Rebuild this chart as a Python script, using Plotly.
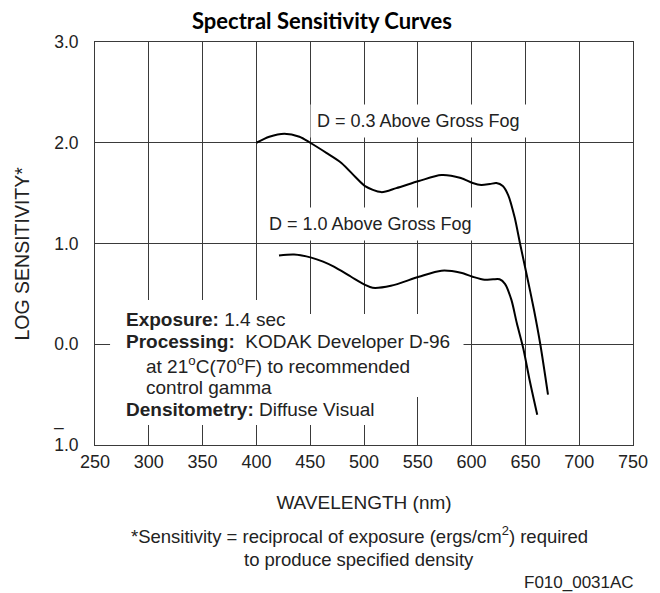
import plotly.graph_objects as go

# ---- data ----
wl_03 = [400, 412, 426, 440, 450, 465, 479, 492, 501, 516, 530, 551, 572, 590,
         601, 609, 617, 623, 629, 634, 640, 645, 651, 658, 664, 671]
ls_03 = [2.00, 2.06, 2.09, 2.06, 2.00, 1.90, 1.80, 1.66, 1.57, 1.51, 1.55, 1.62, 1.68, 1.65,
         1.60, 1.58, 1.59, 1.60, 1.57, 1.48, 1.26, 1.00, 0.70, 0.34, -0.01, -0.50]

wl_10 = [421, 435, 451, 462, 472, 488, 501, 508, 525, 551, 572, 590, 601, 612,
         620, 626, 631, 637, 642, 648, 654, 661]
ls_10 = [0.88, 0.89, 0.86, 0.82, 0.77, 0.67, 0.59, 0.56, 0.58, 0.67, 0.73, 0.71, 0.67, 0.64,
         0.645, 0.645, 0.60, 0.44, 0.21, -0.04, -0.36, -0.70]

x_ticks = [250, 300, 350, 400, 450, 500, 550, 600, 650, 700, 750]
y_ticks = [-1, 0, 1, 2, 3]
y_ticktext = ["1.0", "0.0", "1.0", "2.0", "3.0"]

FONT = "Liberation Sans, Arial, Helvetica, sans-serif"
GRID = "#3a3a3a"
TXT = "#222"

fig = go.Figure()
fig.add_trace(go.Scatter(x=wl_03, y=ls_03, mode="lines", name="D = 0.3",
                         line=dict(color="black", width=2, shape="spline", smoothing=0.8),
                         hoverinfo="skip"))
fig.add_trace(go.Scatter(x=wl_10, y=ls_10, mode="lines", name="D = 1.0",
                         line=dict(color="black", width=2, shape="spline", smoothing=0.8),
                         hoverinfo="skip"))

# page body has an 8px margin, so the figure is 8px smaller than the window
fig.update_layout(
    width=652, height=585,
    margin=dict(l=87, r=22, t=34, b=148),
    plot_bgcolor="white", paper_bgcolor="white",
    showlegend=False,
    font=dict(family=FONT, color=TXT),
    title=dict(text="<b>Spectral Sensitivity Curves</b>", xref="container", x=0.4816,
               xanchor="center", yref="container", y=0.978, yanchor="middle",
               font=dict(family="Lato, Open Sans, sans-serif", size=22, color="black")),
)

fig.update_xaxes(range=[250, 750], tickvals=x_ticks, showgrid=True, gridcolor=GRID,
                 gridwidth=1, zeroline=False, showline=True, mirror=True,
                 linecolor=GRID, linewidth=1, ticks="", ticklabelstandoff=0,
                 tickfont=dict(size=18, family=FONT, color=TXT),
                 title=dict(text="WAVELENGTH (nm)", standoff=25,
                            font=dict(size=19, family=FONT, color=TXT)))
fig.update_yaxes(range=[-1, 3], tickvals=y_ticks, ticktext=y_ticktext, showgrid=True,
                 gridcolor=GRID, gridwidth=1, zeroline=False, showline=True, mirror=True,
                 linecolor=GRID, linewidth=1, ticks="", ticklabelstandoff=12,
                 tickfont=dict(size=17.5, family=FONT, color=TXT))

ann_font = dict(family=FONT, size=18, color=TXT)
# curve labels (white box hides the grid behind them)
fig.add_annotation(x=456.3, y=2.219, xref="x", yref="y", text="D = 0.3 Above Gross Fog",
                   showarrow=False, xanchor="left", yanchor="middle", bgcolor="white",
                   borderpad=6, xshift=-7, font=ann_font)
fig.add_annotation(x=411.7, y=1.194, xref="x", yref="y", text="D = 1.0 Above Gross Fog",
                   showarrow=False, xanchor="left", yanchor="middle", bgcolor="white",
                   borderpad=6, xshift=-7, font=ann_font)

# white masks behind the conditions text (grid is interrupted there)
masks = [
    (271.5, 436.7, 0.131, 0.439),
    (264.0, 592.5, -0.117, 0.300),
    (271.5, 558.0, -0.524, -0.077),
    (271.5, 422.7, -0.553, -0.315),
    (271.5, 517.9, -0.801, -0.514),
]
for x0, x1, y0, y1 in masks:
    fig.add_shape(type="rect", xref="x", yref="y", x0=x0, x1=x1, y0=y0, y1=y1,
                  fillcolor="white", line=dict(width=0), layer="above")

box_font = dict(family=FONT, size=19, color=TXT)
box_lines = [
    (277.5, 0.245, "<b>Exposure:</b> 1.4 sec"),
    (277.5, 0.027, "<b>Processing:</b>  KODAK Developer D-96"),
    (296.7, -0.206, "at 21<sup>o</sup>C(70<sup>o</sup>F) to recommended"),
    (296.7, -0.432, "control gamma"),
    (277.5, -0.650, "<b>Densitometry:</b> Diffuse Visual"),
]
for bx, by, bt in box_lines:
    fig.add_annotation(x=bx, y=by, xref="x", yref="y", text=bt, showarrow=False,
                       xanchor="left", yanchor="middle", borderpad=0, font=box_font)

# y axis title
fig.add_annotation(x=-0.135, y=0.476, xref="paper", yref="paper", text="LOG SENSITIVITY*",
                   textangle=-90, showarrow=False, xanchor="center", yanchor="middle",
                   font=dict(family=FONT, size=19.5, color=TXT))
# bar over the characteristic of the -1 label
fig.add_annotation(x=-0.0672, y=-1, xref="paper", yref="y", text="\u2013", showarrow=False,
                   xanchor="center", yanchor="middle", yshift=18,
                   font=dict(family=FONT, size=17.5, color=TXT))

# footnotes
fig.add_annotation(x=0.491, y=-0.2225, xref="paper", yref="paper",
                   text="*Sensitivity = reciprocal of exposure (ergs/cm<sup>2</sup>) required",
                   showarrow=False, xanchor="center", yanchor="middle",
                   font=dict(family=FONT, size=18.5, color=TXT))
fig.add_annotation(x=0.491, y=-0.285, xref="paper", yref="paper",
                   text="to produce specified density",
                   showarrow=False, xanchor="center", yanchor="middle",
                   font=dict(family=FONT, size=18.5, color=TXT))
fig.add_annotation(x=1.0056, y=-0.3417, xref="paper", yref="paper", text="F010_0031AC",
                   showarrow=False, xanchor="right", yanchor="middle",
                   font=dict(family=FONT, size=17, color=TXT))

fig.write_html("out.html")
